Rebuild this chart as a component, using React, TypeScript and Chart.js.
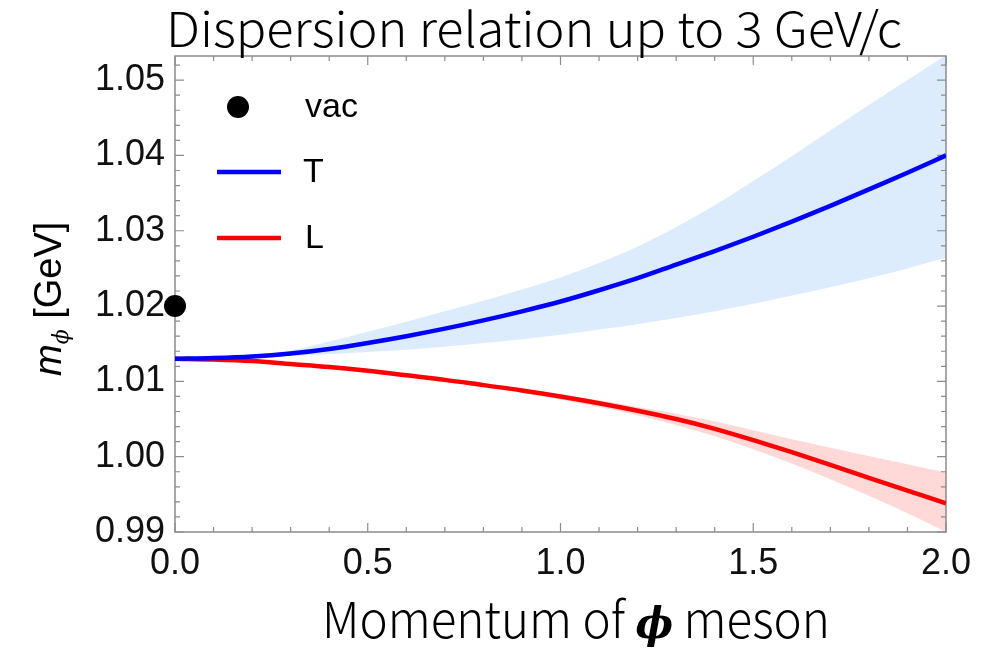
import React, { useEffect, useRef } from "react";
import { Chart, registerables } from "chart.js";

Chart.register(...registerables);

// ---------- data ----------
const momentum = [0, 0.1, 0.2, 0.3, 0.4, 0.5, 0.6, 0.7, 0.8, 0.9, 1.0, 1.1, 1.2, 1.3, 1.4, 1.5, 1.6, 1.7, 1.8, 1.9, 2.0];
const transverse = [1.0130, 1.0131, 1.0133, 1.0137, 1.0143, 1.0151, 1.0160, 1.0170, 1.0181, 1.0193, 1.0206, 1.0221, 1.0237, 1.0255, 1.0273, 1.0292, 1.0312, 1.0333, 1.0355, 1.0377, 1.0400];
const transverseUpper = [1.0130, 1.0131, 1.0134, 1.0141, 1.0153, 1.0166, 1.0179, 1.0193, 1.0207, 1.0222, 1.0238, 1.0257, 1.0279, 1.0305, 1.0334, 1.0366, 1.0399, 1.0433, 1.0467, 1.0500, 1.0533];
const transverseLower = [1.0130, 1.0131, 1.0132, 1.0134, 1.0136, 1.0139, 1.0142, 1.0146, 1.0151, 1.0156, 1.0162, 1.0169, 1.0176, 1.0184, 1.0193, 1.0203, 1.0214, 1.0225, 1.0237, 1.0250, 1.0264];
const longitudinal = [1.0130, 1.0129, 1.0127, 1.0123, 1.0119, 1.0114, 1.0108, 1.0102, 1.0095, 1.0088, 1.0080, 1.0071, 1.0061, 1.0050, 1.0037, 1.0022, 1.0006, 0.9989, 0.9972, 0.9955, 0.9938];
const longitudinalUpper = [1.0130, 1.0129, 1.0127, 1.0124, 1.0120, 1.0115, 1.0109, 1.0103, 1.0097, 1.0090, 1.0083, 1.0075, 1.0066, 1.0057, 1.0047, 1.0035, 1.0023, 1.0012, 1.0001, 0.9990, 0.9979];
const longitudinalLower = [1.0130, 1.0129, 1.0126, 1.0122, 1.0118, 1.0113, 1.0107, 1.0100, 1.0093, 1.0085, 1.0076, 1.0066, 1.0055, 1.0042, 1.0027, 1.0010, 0.9991, 0.9970, 0.9948, 0.9925, 0.9900];
const vacuumMomentum = [0];
const vacuumMass = [1.02];

const xTickValues = [0, 0.5, 1.0, 1.5, 2.0];
const yTickValues = [0.99, 1.0, 1.01, 1.02, 1.03, 1.04, 1.05];
const xRange = [0, 2];
const yRange = [0.99, 1.0532];
const seriesLabels = ["vac", "T", "L"];
const titleText = "Dispersion relation up to 3 GeV/c";
const xTitleParts = ["Momentum of ", "ϕ", " meson"];
const yTitleParts = ["m", "ϕ", " [GeV]"];

const BLUE = "#0000ff";
const RED = "#ff0000";
const BLUE_BAND = "rgba(220,236,252,1)";
const RED_BAND = "rgba(255,216,216,1)";

const pts = (xs: number[], ys: number[]) => xs.map((x, i) => ({ x, y: ys[i] }));

const framePlugin = {
  id: "frameTicks",
  beforeDatasetsDraw(chart: any) {
    const { ctx, chartArea: a, scales } = chart;
    const xs = scales.x;
    const ys = scales.y;
    ctx.save();
    ctx.strokeStyle = "#8c8c8c";
    ctx.lineWidth = 1.5;
    ctx.strokeRect(a.left, a.top, a.right - a.left, a.bottom - a.top);
    ctx.lineWidth = 1.2;
    ctx.beginPath();
    for (let i = 0; i <= 20; i++) {
      const v = xRange[0] + i * 0.1;
      const px = xs.getPixelForValue(v);
      const len = i % 5 === 0 ? 9 : 5;
      ctx.moveTo(px, a.bottom);
      ctx.lineTo(px, a.bottom - len);
      ctx.moveTo(px, a.top);
      ctx.lineTo(px, a.top + len);
    }
    for (let i = 0; i <= 40; i++) {
      const v = yRange[0] + i * 0.002;
      if (v > yRange[1] + 1e-9) break;
      const py = ys.getPixelForValue(v);
      const len = i % 5 === 0 ? 9 : 5;
      ctx.moveTo(a.left, py);
      ctx.lineTo(a.left + len, py);
      ctx.moveTo(a.right, py);
      ctx.lineTo(a.right - len, py);
    }
    ctx.stroke();
    ctx.restore();
  },
};

const textPlugin = {
  id: "texts",
  afterDraw(chart: any) {
    const { ctx, chartArea: a } = chart;
    ctx.save();
    ctx.fillStyle = "#000";
    ctx.textBaseline = "alphabetic";
    ctx.textAlign = "left";

    // Title
    ctx.font = "300 48px 'Noto Sans CJK JP'";
    const tw = ctx.measureText(titleText).width;
    const titleTarget = 736;
    ctx.save();
    ctx.translate(534, 47);
    ctx.scale(titleTarget / tw, 1);
    ctx.fillText(titleText, -tw / 2, 0);
    ctx.restore();

    // X title
    const xFonts = ["300 50px 'Noto Sans CJK JP'", "italic bold 42px 'DejaVu Serif'", "300 50px 'Noto Sans CJK JP'"];
    const widths = xTitleParts.map((t, i) => {
      ctx.font = xFonts[i];
      return ctx.measureText(t).width;
    });
    const total = widths.reduce((s, w) => s + w, 0);
    const xTarget = 508;
    ctx.save();
    ctx.translate(576, 638);
    ctx.scale(xTarget / total, 1);
    let cx = -total / 2;
    xTitleParts.forEach((t, i) => {
      ctx.font = xFonts[i];
      ctx.fillText(t, cx, 0);
      cx += widths[i];
    });
    ctx.restore();

    // Y title (rotated)
    ctx.save();
    ctx.translate(61, 376);
    ctx.rotate(-Math.PI / 2);
    ctx.font = "italic 38px 'Liberation Sans'";
    ctx.fillText(yTitleParts[0], 0, 0);
    let off = ctx.measureText(yTitleParts[0]).width;
    ctx.font = "italic 22px 'DejaVu Serif'";
    ctx.fillText(yTitleParts[1], off, 7);
    off += ctx.measureText(yTitleParts[1]).width;
    ctx.font = "38px 'Liberation Sans'";
    ctx.fillText(yTitleParts[2], off, 0);
    ctx.restore();

    // Legend
    const lx = a.left;
    const ly = a.top;
    ctx.font = "34px 'Liberation Sans'";
    ctx.textBaseline = "middle";
    ctx.beginPath();
    ctx.fillStyle = "#000";
    ctx.arc(lx + 63, ly + 51, 11, 0, Math.PI * 2);
    ctx.fill();
    ctx.fillText(seriesLabels[0], lx + 130, ly + 52);
    ctx.lineWidth = 4.5;
    ctx.strokeStyle = BLUE;
    ctx.beginPath();
    ctx.moveTo(lx + 42, ly + 116);
    ctx.lineTo(lx + 106, ly + 116);
    ctx.stroke();
    ctx.fillText(seriesLabels[1], lx + 128, ly + 117);
    ctx.strokeStyle = RED;
    ctx.beginPath();
    ctx.moveTo(lx + 42, ly + 182);
    ctx.lineTo(lx + 106, ly + 182);
    ctx.stroke();
    ctx.fillText(seriesLabels[2], lx + 130, ly + 183);
    ctx.restore();
  },
};

export default function App() {
  const canvasRef = useRef<HTMLCanvasElement | null>(null);

  useEffect(() => {
    const canvas = canvasRef.current;
    if (!canvas) return;
    const chart = new Chart(canvas, {
      type: "line",
      data: {
        datasets: [
          {
            label: seriesLabels[0],
            data: pts(vacuumMomentum, vacuumMass),
            showLine: false,
            pointRadius: 11,
            pointBackgroundColor: "#000",
            pointBorderWidth: 0,
            clip: false,
            order: 0,
          } as any,
          {
            label: seriesLabels[1],
            data: pts(momentum, transverse),
            borderColor: BLUE,
            borderWidth: 4.5,
            pointRadius: 0,
            cubicInterpolationMode: "monotone",
            fill: false,
            order: 1,
          },
          {
            label: seriesLabels[2],
            data: pts(momentum, longitudinal),
            borderColor: RED,
            borderWidth: 4.5,
            pointRadius: 0,
            cubicInterpolationMode: "monotone",
            fill: false,
            order: 2,
          },
          {
            label: "T upper",
            data: pts(momentum, transverseUpper),
            borderWidth: 0,
            borderColor: "rgba(0,0,0,0)",
            backgroundColor: BLUE_BAND,
            pointRadius: 0,
            cubicInterpolationMode: "monotone",
            fill: "+1",
            order: 5,
          },
          {
            label: "T lower",
            data: pts(momentum, transverseLower),
            borderWidth: 0,
            borderColor: "rgba(0,0,0,0)",
            pointRadius: 0,
            cubicInterpolationMode: "monotone",
            fill: false,
            order: 6,
          },
          {
            label: "L upper",
            data: pts(momentum, longitudinalUpper),
            borderWidth: 0,
            borderColor: "rgba(0,0,0,0)",
            backgroundColor: RED_BAND,
            pointRadius: 0,
            cubicInterpolationMode: "monotone",
            fill: "+1",
            order: 7,
          },
          {
            label: "L lower",
            data: pts(momentum, longitudinalLower),
            borderWidth: 0,
            borderColor: "rgba(0,0,0,0)",
            pointRadius: 0,
            cubicInterpolationMode: "monotone",
            fill: false,
            order: 8,
          },
        ],
      },
      options: {
        responsive: false,
        animation: false,
        events: [],
        layout: { padding: { left: 0, right: 48, top: 56, bottom: 0 } },
        plugins: {
          legend: { display: false },
          title: { display: false },
          tooltip: { enabled: false },
          filler: { drawTime: "beforeDatasetsDraw" } as any,
        },
        scales: {
          x: {
            type: "linear",
            min: xRange[0],
            max: xRange[1],
            grid: { display: false, drawTicks: false },
            border: { display: false },
            afterBuildTicks: (s: any) => {
              s.ticks = xTickValues.map((v) => ({ value: v }));
            },
            afterFit: (s: any) => {
              s.height = 116;
            },
            ticks: {
              autoSkip: false,
              maxRotation: 0,
              padding: 10,
              color: "#111",
              font: { family: "'Liberation Sans'", size: 36 },
              callback: (v: any) => Number(v).toFixed(1),
            },
          },
          y: {
            type: "linear",
            min: yRange[0],
            max: yRange[1],
            grid: { display: false, drawTicks: false },
            border: { display: false },
            afterBuildTicks: (s: any) => {
              s.ticks = yTickValues.map((v) => ({ value: v }));
            },
            afterFit: (s: any) => {
              s.width = 175;
            },
            ticks: {
              autoSkip: false,
              padding: 10,
              color: "#111",
              font: { family: "'Liberation Sans'", size: 36 },
              callback: (v: any) => Number(v).toFixed(2),
            },
          },
        },
      },
      plugins: [framePlugin, textPlugin],
    });
    return () => chart.destroy();
  }, []);

  return (
    <div style={{ position: "fixed", left: 0, top: 0, width: 994, height: 648, background: "#fff" }}>
      <canvas ref={canvasRef} width={994} height={648} style={{ width: 994, height: 648, display: "block" }} />
    </div>
  );
}
